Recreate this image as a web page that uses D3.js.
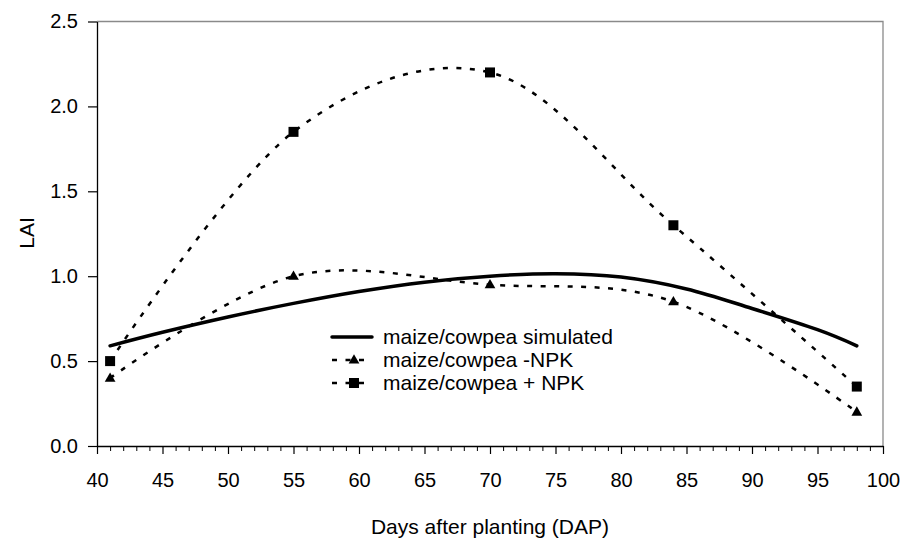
<!DOCTYPE html>
<html>
<head>
<meta charset="utf-8">
<script src="https://cdn.jsdelivr.net/npm/d3@7"></script>
<style>
  html, body { margin: 0; padding: 0; background: #fff; }
  svg text { font-family: "Liberation Sans", Arial, sans-serif; fill: #000; }
</style>
</head>
<body>
<svg id="chart" width="903" height="543"></svg>
<script>
// ---- data ----
const simDays = [41, 45, 50, 55, 60, 65, 70, 75, 80, 85, 90, 95, 98];
const simLAI  = [0.59, 0.67, 0.76, 0.84, 0.91, 0.965, 1.0, 1.015, 0.995, 0.925, 0.81, 0.685, 0.59];
const obsDays = [41, 55, 70, 84, 98];
const minusNPK = [0.4, 1.0, 0.95, 0.85, 0.2];
const plusNPK  = [0.5, 1.85, 2.2, 1.3, 0.35];
const xTicks = [40, 45, 50, 55, 60, 65, 70, 75, 80, 85, 90, 95, 100];
const yTicks = [0, 0.5, 1.0, 1.5, 2.0, 2.5];
const legendLabels = ["maize/cowpea simulated", "maize/cowpea -NPK", "maize/cowpea + NPK"];

(function () {
const svg = d3.select("#chart");
const pL = 97, pR = 883, pT = 21.5, pB = 446;
const x = d3.scaleLinear().domain([40, 100]).range([pL, pR]);
const y = d3.scaleLinear().domain([0, 2.5]).range([pB, pT]);

// plot border (top/right gray)
svg.append("path")
  .attr("d", `M${pL},${pT}H${pR}V${pB}`)
  .attr("fill", "none").attr("stroke", "#8a8a8a").attr("stroke-width", 1.3);

// minor x ticks
const minor = d3.range(40, 101, 1).filter(d => d % 5 !== 0);
svg.append("g").attr("transform", `translate(0,${pB})`)
  .call(d3.axisBottom(x).tickValues(minor).tickSize(5).tickFormat(""))
  .call(g => g.select(".domain").remove())
  .call(g => g.selectAll("line").attr("stroke", "#000").attr("stroke-width", 1));

// major x axis
svg.append("g").attr("transform", `translate(0,${pB})`)
  .call(d3.axisBottom(x).tickValues(xTicks).tickSize(8).tickSizeOuter(0).tickPadding(19).tickFormat(d3.format("d")))
  .call(g => g.select(".domain").attr("stroke", "#000").attr("stroke-width", 1.3))
  .call(g => g.selectAll("line").attr("stroke", "#000").attr("stroke-width", 1.2))
  .call(g => g.selectAll("text").attr("font-size", 20).attr("font-family", "Liberation Sans, Arial, sans-serif"));

// y axis
svg.append("g").attr("transform", `translate(${pL},0)`)
  .call(d3.axisLeft(y).tickValues(yTicks).tickSize(9).tickSizeOuter(0).tickPadding(10).tickFormat(d3.format(".1f")))
  .call(g => g.select(".domain").attr("stroke", "#000").attr("stroke-width", 1.3))
  .call(g => g.selectAll("line").attr("stroke", "#000").attr("stroke-width", 1.2))
  .call(g => g.selectAll("text").attr("font-size", 20).attr("font-family", "Liberation Sans, Arial, sans-serif"));

// axis titles
svg.append("text").attr("x", (pL + pR) / 2).attr("y", 534)
  .attr("text-anchor", "middle").attr("font-size", 21).text("Days after planting (DAP)");
svg.append("text").attr("transform", "translate(34,233) rotate(-90)")
  .attr("text-anchor", "middle").attr("font-size", 21).text("LAI");

// lines
const curve = d3.curveCardinal.tension(0);
const line = d3.line().x(d => x(d[0])).y(d => y(d[1])).curve(curve);

const dash = "5,8.5";
svg.append("path").datum(obsDays.map((d, i) => [d, plusNPK[i]]))
  .attr("d", line).attr("fill", "none").attr("stroke", "#000")
  .attr("stroke-width", 2.5).attr("stroke-dasharray", dash);
svg.append("path").datum(obsDays.map((d, i) => [d, minusNPK[i]]))
  .attr("d", line).attr("fill", "none").attr("stroke", "#000")
  .attr("stroke-width", 2.5).attr("stroke-dasharray", dash);
svg.append("path").datum(simDays.map((d, i) => [d, simLAI[i]]))
  .attr("d", line).attr("fill", "none").attr("stroke", "#000")
  .attr("stroke-width", 3.5).attr("stroke-linecap", "round");

// markers
const tri = d3.symbol().type(d3.symbolTriangle).size(50);
const sq = d3.symbol().type(d3.symbolSquare).size(100);
svg.append("g").selectAll("path").data(obsDays.map((d, i) => [d, minusNPK[i]])).join("path")
  .attr("d", tri).attr("transform", d => `translate(${x(d[0])},${y(d[1]) + 0.5})`).attr("fill", "#000");
svg.append("g").selectAll("path").data(obsDays.map((d, i) => [d, plusNPK[i]])).join("path")
  .attr("d", sq).attr("transform", d => `translate(${x(d[0])},${y(d[1])})`).attr("fill", "#000");

// legend
const lg = svg.append("g");
const lx0 = 332, lx1 = 372, ly0 = 337, ldy = 23, ltx = 383;
legendLabels.forEach((lab, i) => {
  const yy = ly0 + i * ldy;
  const p = lg.append("line").attr("x1", lx0).attr("x2", lx1).attr("y1", yy).attr("y2", yy)
    .attr("stroke", "#000");
  if (i === 0) {
    p.attr("stroke-width", 3.5).attr("stroke-linecap", "round");
  } else {
    p.attr("stroke-width", 2.5).attr("stroke-dasharray", dash);
    lg.append("path").attr("d", i === 1 ? tri : sq)
      .attr("transform", `translate(${(lx0 + lx1) / 2 + 2},${yy + (i === 1 ? 0.5 : 0)})`).attr("fill", "#000");
  }
  lg.append("text").attr("x", ltx).attr("y", yy).attr("dy", "0.35em")
    .attr("font-size", 21).text(lab);
});
})();
</script>
</body>
</html>
